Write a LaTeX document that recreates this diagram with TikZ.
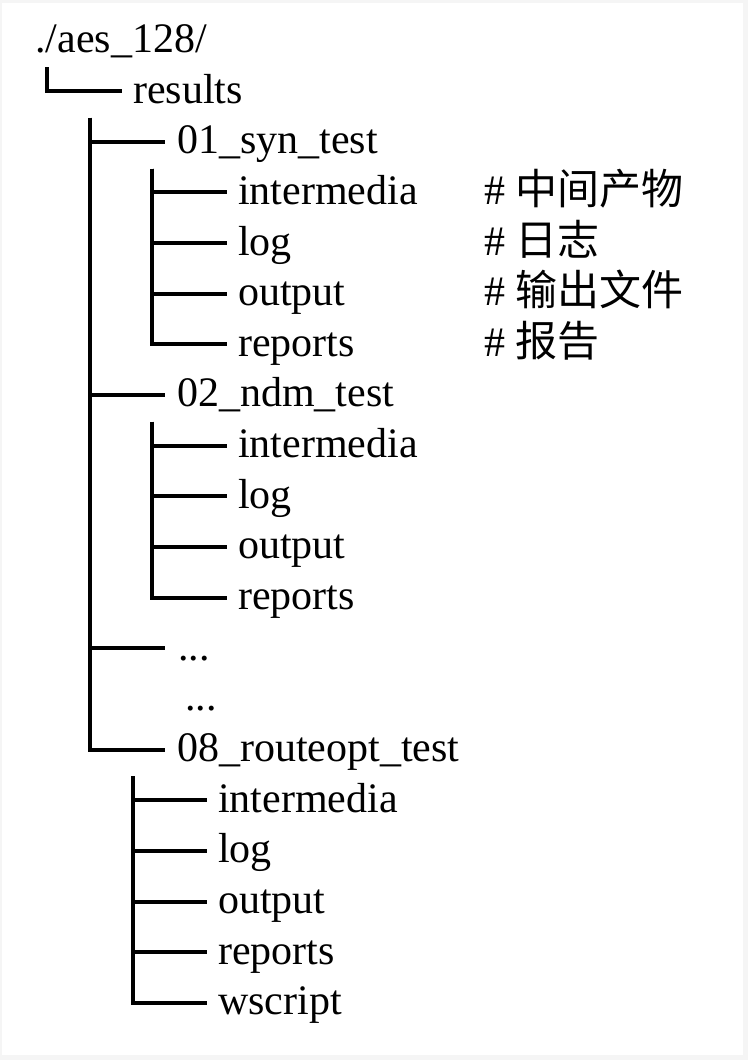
\documentclass[tikz,border=0pt]{standalone}
\usepackage{fontspec}
\setmainfont{Liberation Serif}
\newfontfamily\cjk{Noto Sans CJK SC}
\usepackage{tikz}
\usetikzlibrary{positioning}

\begin{document}
\begin{tikzpicture}[
  x=1pt, y=-50.65pt,
  font=\fontsize{42}{50}\selectfont,
  dir/.style={anchor=base west, inner sep=0pt, text height=38.6pt, text depth=14.7pt},
  note/.style={dir},
  branch/.style={draw=black, line width=4pt},
]
  % frame
  \useasboundingbox (0pt,52.4pt) rectangle (748pt,-1007.6pt);
  \fill[gray!8] (0pt,52.4pt) rectangle (748pt,-1007.6pt);
  \fill[white] (2pt,49.4pt) rectangle (743pt,-1002.6pt);

  % root and first level
  \node[dir] (root) at (35,0) {./aes\_128/};
  \node[dir] (res) at (133,1) {results};
  \node[dir] (syn) at (177,2) {01\_syn\_test};
  \node[dir] (ndm) at (177,7) {02\_ndm\_test};
  \node[dir] (dotsa) at (178,12) {...};
  \node[dir] (dotsb) at (185,13) {...};
  \node[dir] (route) at (177,14) {08\_routeopt\_test};

  % 01_syn_test
  \node[dir] (synint) at (238,3) {intermedia};
  \node[dir] (synlog) at (238,4) {log};
  \node[dir] (synout) at (238,5) {output};
  \node[dir] (synrep) at (238,6) {reports};

  % 02_ndm_test
  \node[dir] (ndmint) at (238,8) {intermedia};
  \node[dir] (ndmlog) at (238,9) {log};
  \node[dir] (ndmout) at (238,10) {output};
  \node[dir] (ndmrep) at (238,11) {reports};

  % 08_routeopt_test
  \node[dir] (rteint) at (218,15) {intermedia};
  \node[dir] (rtelog) at (218,16) {log};
  \node[dir] (rteout) at (218,17) {output};
  \node[dir] (rterep) at (218,18) {reports};
  \node[dir] (rtescr) at (218,19) {wscript};

  % comments
  \node[note] (cint) at (484,3) {\# {\cjk 中间产物}};
  \node[note] (clog) at (484,4) {\# {\cjk 日志}};
  \node[note] (cout) at (484,5) {\# {\cjk 输出文件}};
  \node[note] (crep) at (484,6) {\# {\cjk 报告}};

  % tree lines
  \draw[branch] ([xshift=12pt]root.south west) |- ([xshift=-11pt]res.west);

  \draw[branch] ([xshift=-43pt]res.south west) |- ([xshift=-12pt]syn.west);
  \draw[branch] ([xshift=-43pt]res.south west) |- ([xshift=-12pt]ndm.west);
  \draw[branch] ([xshift=-43pt]res.south west) |- ([xshift=-13pt]dotsa.west);
  \draw[branch] ([xshift=-43pt]res.south west) |- ([xshift=-12pt]route.west);

  \draw[branch] ([xshift=-25pt]syn.south west) |- ([xshift=-11pt]synint.west);
  \draw[branch] ([xshift=-25pt]syn.south west) |- ([xshift=-11pt]synlog.west);
  \draw[branch] ([xshift=-25pt]syn.south west) |- ([xshift=-11pt]synout.west);
  \draw[branch] ([xshift=-25pt]syn.south west) |- ([xshift=-11pt]synrep.west);

  \draw[branch] ([xshift=-25pt]ndm.south west) |- ([xshift=-11pt]ndmint.west);
  \draw[branch] ([xshift=-25pt]ndm.south west) |- ([xshift=-11pt]ndmlog.west);
  \draw[branch] ([xshift=-25pt]ndm.south west) |- ([xshift=-11pt]ndmout.west);
  \draw[branch] ([xshift=-25pt]ndm.south west) |- ([xshift=-11pt]ndmrep.west);

  \draw[branch] ([xshift=-44pt]route.south west) |- ([xshift=-11pt]rteint.west);
  \draw[branch] ([xshift=-44pt]route.south west) |- ([xshift=-11pt]rtelog.west);
  \draw[branch] ([xshift=-44pt]route.south west) |- ([xshift=-11pt]rteout.west);
  \draw[branch] ([xshift=-44pt]route.south west) |- ([xshift=-11pt]rterep.west);
  \draw[branch] ([xshift=-44pt]route.south west) |- ([xshift=-11pt]rtescr.west);
\end{tikzpicture}
\end{document}
